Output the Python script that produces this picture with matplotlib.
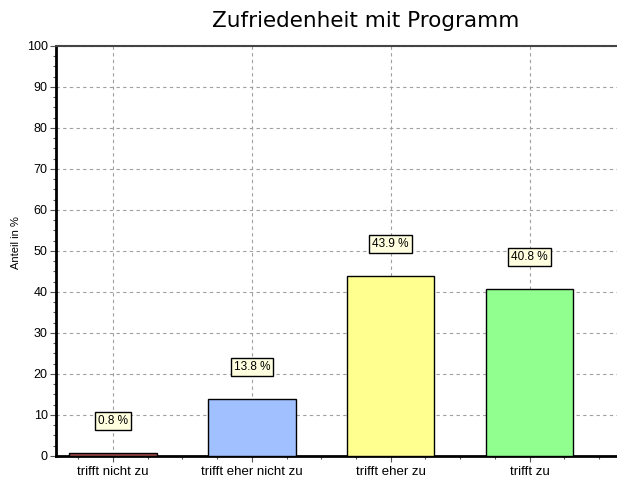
import matplotlib.pyplot as plt
import numpy as np

# data
categories = ["trifft nicht zu", "trifft eher nicht zu", "trifft eher zu", "trifft zu"]
values = [0.8, 13.8, 43.9, 40.8]
labels = ["0.8 %", "13.8 %", "43.9 %", "40.8 %"]
colors = ["#a04848", "#a0c0ff", "#ffff90", "#90ff90"]

plt.rcParams['font.family'] = ['Liberation Sans', 'DejaVu Sans']

fig = plt.figure(figsize=(6.17, 4.84), dpi=100)
ax = fig.add_axes([0.0908, 0.0579, 1.0 - 0.0908, 0.905 - 0.0579])

x = np.arange(len(categories))
ax.bar(x, values, width=0.63, color=colors, edgecolor="black", linewidth=1, zorder=3)

for xi, v, lab in zip(x, values, labels):
    ax.text(xi, v + 7.8, lab, ha="center", va="center", fontsize=8.5, zorder=4,
            bbox=dict(boxstyle="square,pad=0.25", facecolor="#ffffe0", edgecolor="black", linewidth=1))

ax.set_xlim(-0.41, 3.63)
ax.set_ylim(0, 100)
ax.set_xticks(x)
ax.set_xticklabels(categories, fontsize=9.5)
ax.set_xticks(np.arange(-0.25, 3.6, 0.25), minor=True)
ax.set_yticks(np.arange(0, 101, 10))
ax.set_yticks(np.arange(0, 100.1, 2.5), minor=True)
ax.tick_params(axis="y", labelsize=9, length=4, width=0.8, color="#555555", pad=2)
ax.tick_params(axis="x", length=4, width=0.8, color="#555555", pad=3)
ax.tick_params(which="minor", length=2.5, width=0.8, color="#555555")

ax.grid(True, which="major", color="#a0a0a0", linestyle=(0, (3, 3)), linewidth=0.8, zorder=0)

ax.spines["right"].set_visible(False)
ax.spines["left"].set_linewidth(2)
ax.spines["bottom"].set_linewidth(2)
ax.spines["top"].set_color("#444444")
ax.spines["top"].set_linewidth(1.5)

ax.set_ylabel("Anteil in %", fontsize=8)
ax.yaxis.set_label_coords(-0.062, 0.52)

fig.text(0.593, 0.957, "Zufriedenheit mit Programm", ha="center", va="center",
         fontsize=15.5, family="DejaVu Sans")

plt.savefig("out.png", dpi=100)
